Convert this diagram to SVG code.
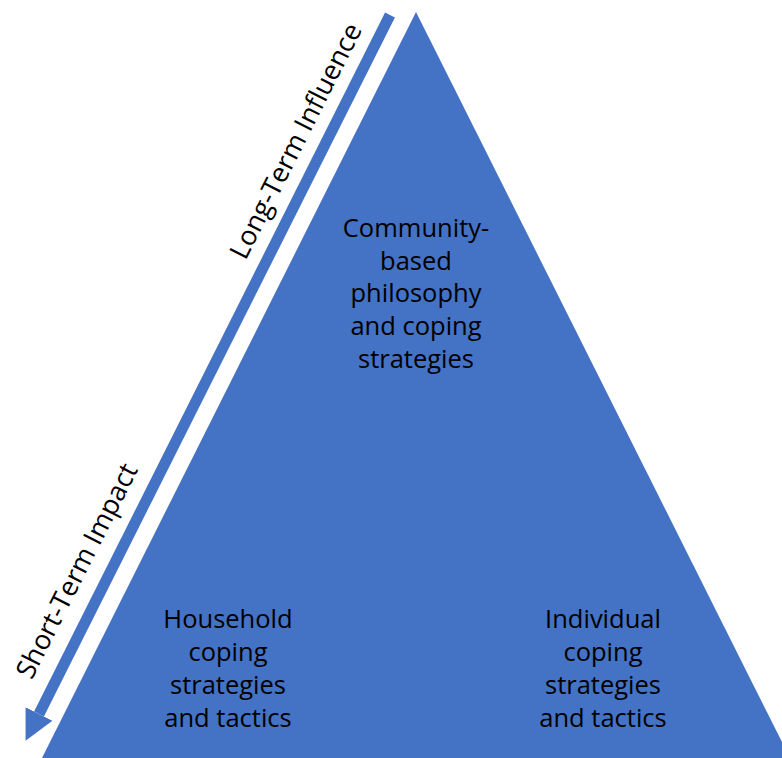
<svg xmlns="http://www.w3.org/2000/svg" width="782" height="758" viewBox="0 0 782 758">
  <style>
    .tier { fill: #4472C4; }
    .label { font-family: "Open Sans", "Noto Sans", "Liberation Sans", sans-serif; font-size: 25.5px; fill: #000; text-anchor: middle; }
    .axis { font-family: "Open Sans", "Noto Sans", "Liberation Sans", sans-serif; font-size: 27px; fill: #000; text-anchor: middle; }
    .flow { stroke: #4472C4; stroke-width: 11; fill: none; }
  </style>
  <defs>
    <marker id="head" viewBox="0 0 10 10" refX="0" refY="5" markerUnits="userSpaceOnUse" markerWidth="30" markerHeight="33" orient="auto">
      <path d="M0,0 L10,5 L0,10 Z" fill="#4472C4"/>
    </marker>
  </defs>

  <!-- pyramid -->
  <g id="pyramid">
    <polygon class="tier" points="416,12 40,762 792,762"/>
  </g>

  <!-- time axis running down the left flank -->
  <g id="connectors">
    <line class="flow" x1="390" y1="15" x2="39" y2="714" marker-end="url(#head)"/>
  </g>

  <g id="axis-long">
    <text class="axis" transform="translate(304,145) rotate(-63.2)">Long-Term Influence</text>
  </g>
  <g id="axis-short">
    <text class="axis" transform="translate(85,575) rotate(-63.2)">Short-Term Impact</text>
  </g>

  <g id="community">
    <text class="label" x="416" y="237">Community-</text>
    <text class="label" x="416" y="270">based</text>
    <text class="label" x="416" y="302">philosophy</text>
    <text class="label" x="416" y="335">and coping</text>
    <text class="label" x="416" y="368">strategies</text>
  </g>

  <g id="household">
    <text class="label" x="228" y="628">Household</text>
    <text class="label" x="228" y="661">coping</text>
    <text class="label" x="228" y="694">strategies</text>
    <text class="label" x="228" y="727">and tactics</text>
  </g>

  <g id="individual">
    <text class="label" x="603" y="628">Individual</text>
    <text class="label" x="603" y="661">coping</text>
    <text class="label" x="603" y="694">strategies</text>
    <text class="label" x="603" y="727">and tactics</text>
  </g>
</svg>
